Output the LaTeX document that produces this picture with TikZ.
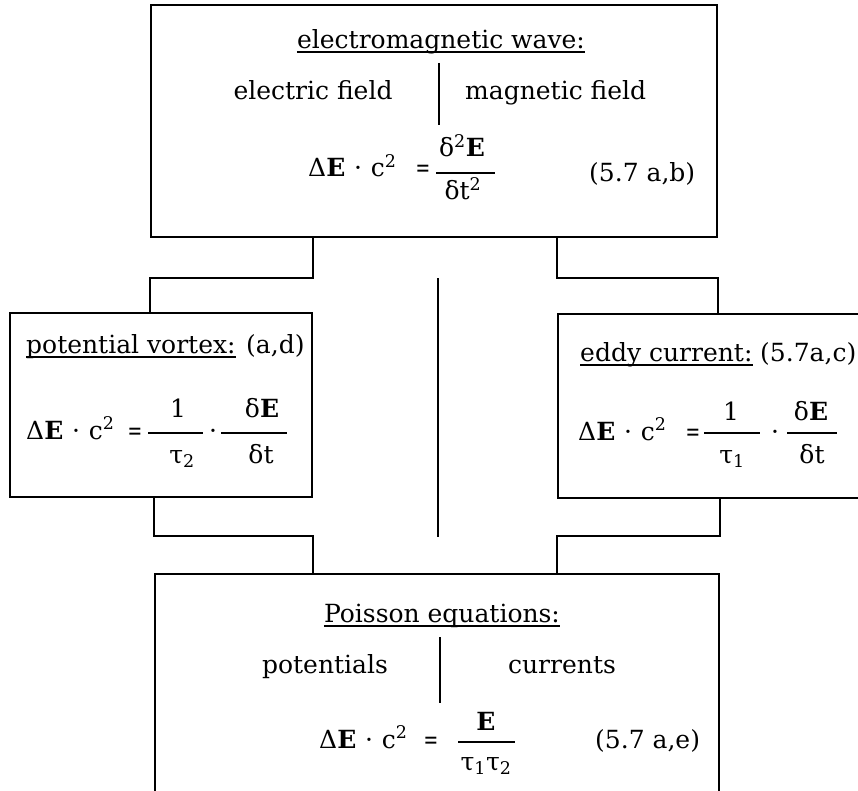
\documentclass[tikz,border=0pt]{standalone}
\usepackage{graphicx}
\usepackage{fontspec}
\setmainfont{DejaVu Serif}

\begin{document}
\begin{tikzpicture}[x=1pt, y=-1pt,
  box/.style={draw, line width=1.8pt, inner sep=0pt},
  txt/.style={anchor=base, inner sep=0pt, font=\fontsize{25}{30}\selectfont},
  link/.style={line width=1.8pt},
  sep/.style={line width=1.8pt},
  ul/.style={line width=1.2pt},
  bar/.style={line width=1.6pt}]
\useasboundingbox (0,0) rectangle (858,791);
\node[box, minimum width=566, minimum height=232] (wave) at (434,121) {};
\node[box, minimum width=302, minimum height=184] (vortex) at (161,405) {};
\node[box, minimum width=308, minimum height=184] (eddy) at (712,406) {};
\node[box, minimum width=564, minimum height=232] (poisson) at (437,690) {};
\draw[link] (wave.south -| vortex.east) -- ++(0,40) -| (vortex.north -| wave.west);
\draw[link] (wave.south -| eddy.west) -- ++(0,40) -| (eddy.north -| wave.east);
\draw[link] (vortex.south -| poisson.west) -- ++(0,38) -| (poisson.north -| vortex.east);
\draw[link] (eddy.south -| poisson.east) -- ++(0,37) -| (poisson.north -| eddy.west);
\coordinate (axtop) at (438,278);
\coordinate (axbot) at (438,537);
\draw[line width=2.6pt] (axtop) -- (axbot);
\node[txt] (wavetitle) at (441,49) {electromagnetic wave:};
\draw[ul] ([yshift=-3pt]wavetitle.base west) -- ([yshift=-3pt]wavetitle.base east);
\node[txt] (efield) at (313,100) {electric field};
\node[txt, anchor=base west] (mfield) at (465,100) {magnetic field};
\draw[sep] (439,63) -- (439,125);
\node[txt, anchor=base west] (wavelhs) at (308,177) {Δ\textbf{E}\hspace{0.35em}·\hspace{0.35em}c\textsuperscript{2}};
\node[txt] (waveeq) at (423,177) {\scalebox{0.7}[1]{=}};
\node[txt] (wavenum) at (462,157) {δ\textsuperscript{2}\textbf{E}};
\node[txt] (waveden) at (463,200) {δt\textsuperscript{2}};
\draw[bar] (436,173) -- (495,173);
\node[txt, anchor=base west] (waveref) at (589,182) {(5.7 a,b)};
\node[txt, anchor=base west] (vortextitle) at (26,353) {potential vortex:};
\draw[ul] ([yshift=-4pt]vortextitle.base west) -- ([yshift=-4pt]vortextitle.base east);
\node[txt, anchor=base west] (vortexref) at (246,353) {(a,d)};
\node[txt, anchor=base west] (vortexlhs) at (26,439) {Δ\textbf{E}\hspace{0.35em}·\hspace{0.35em}c\textsuperscript{2}};
\node[txt] (vortexeq) at (135,439) {\scalebox{0.7}[1]{=}};
\draw[bar] (148,433) -- (203,433);
\node[txt] (vortexone) at (178,417) {1};
\node[txt] (vortextau) at (182,463) {τ\textsubscript{2}};
\node[txt] (vortexdot) at (213,439) {·};
\draw[bar] (221,433) -- (287,433);
\node[txt] (vortexnum) at (262,417) {δ\textbf{E}};
\node[txt] (vortexden) at (261,463) {δt};
\node[txt, anchor=base west] (eddytitle) at (580,361) {eddy current:};
\draw[ul] ([yshift=-4pt]eddytitle.base west) -- ([yshift=-4pt]eddytitle.base east);
\node[txt, anchor=base west] (eddyref) at (760,361) {(5.7a,c)};
\node[txt, anchor=base west] (eddylhs) at (578,440) {Δ\textbf{E}\hspace{0.35em}·\hspace{0.35em}c\textsuperscript{2}};
\node[txt] (eddyeq) at (693,440) {\scalebox{0.7}[1]{=}};
\draw[bar] (704,433) -- (760,433);
\node[txt] (eddyone) at (731,420) {1};
\node[txt] (eddytau) at (732,463) {τ\textsubscript{1}};
\node[txt] (eddydot) at (775,440) {·};
\draw[bar] (787,433) -- (837,433);
\node[txt] (eddynum) at (811,420) {δ\textbf{E}};
\node[txt] (eddyden) at (812,463) {δt};
\node[txt] (poissontitle) at (442,622) {Poisson equations:};
\draw[ul] ([yshift=-4pt]poissontitle.base west) -- ([yshift=-4pt]poissontitle.base east);
\node[txt] (pots) at (325,673) {potentials};
\node[txt] (currs) at (562,673) {currents};
\draw[sep] (440,637) -- (440,703);
\node[txt, anchor=base west] (poissonlhs) at (319,748) {Δ\textbf{E}\hspace{0.35em}·\hspace{0.35em}c\textsuperscript{2}};
\node[txt] (poissoneq) at (431,748) {\scalebox{0.7}[1]{=}};
\draw[bar] (458,742) -- (515,742);
\node[txt] (poissonnum) at (486,730) {\textbf{E}};
\node[txt] (poissonden) at (486,770) {τ\textsubscript{1}τ\textsubscript{2}};
\node[txt, anchor=base west] (poissonref) at (595,748) {(5.7 a,e)};
\end{tikzpicture}
\end{document}
